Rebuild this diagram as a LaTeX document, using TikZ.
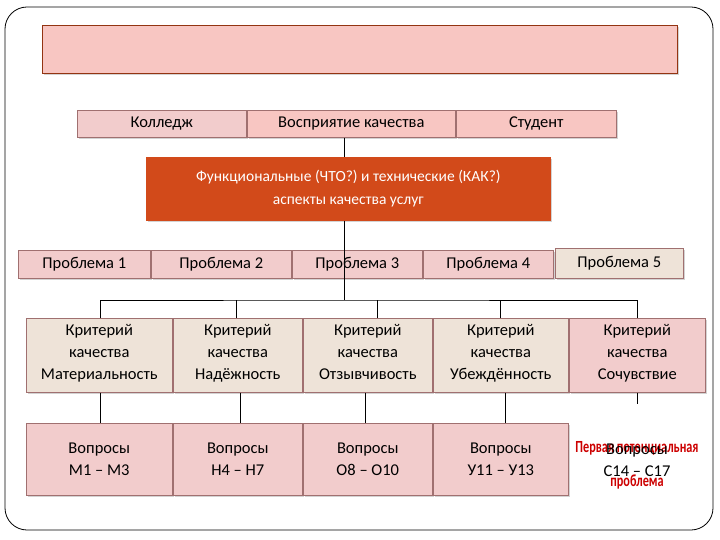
\documentclass[tikz,border=0pt]{standalone}
\usepackage{fontspec}
\setmainfont{Carlito}
\usetikzlibrary{shadows}
\definecolor{pinkA}{HTML}{F2CCCC}
\definecolor{pinkB}{HTML}{F8C6C2}
\definecolor{beige}{HTML}{EEE3D8}
\definecolor{orng}{HTML}{D24A1A}
\definecolor{bord}{HTML}{A07070}
\begin{document}
\begin{tikzpicture}[x=1pt,y=-1pt,
  bx/.style={draw=bord,line width=0.6pt,minimum height=#1,inner sep=1pt,align=center,font=\fontsize{16.5}{22}\selectfont,anchor=north west,drop shadow={shadow xshift=1.5pt,shadow yshift=-1.5pt,opacity=0.35}},
  bx/.default=28pt,
  ln/.style={draw=black,line width=0.7pt}]
\useasboundingbox (0,0) rectangle (720,540);
\draw[line width=0.8pt,rounded corners=22pt] (5,7) rectangle (713,530);
\node[bx=48pt,fill=pinkB,draw=orng!70!black,line width=1.2pt,minimum width=635pt] (title) at (42,25) {};
% row 1
\node[bx=27pt,fill=pinkA,minimum width=169pt] (kol) at (77,110) {Колледж};
\node[bx=27pt,fill=pinkB,minimum width=208pt] (vos) at (247,110) {Восприятие качества};
\node[bx=27pt,fill=pinkB,minimum width=160pt] (stu) at (456,110) {Студент};
\node[bx=63pt,fill=orng,draw=orng,text=white,minimum width=404pt,font=\fontsize{15.5}{23}\selectfont] (fun) at (146,157) {Функциональные (ЧТО?) и технические (КАК?)\\аспекты качества услуг};
% problems
\node[bx=28pt,fill=pinkA,minimum width=132pt] (p1) at (18,250) {Проблема 1};
\node[bx=28pt,fill=pinkA,minimum width=140pt] (p2) at (151,250) {Проблема 2};
\node[bx=28pt,fill=pinkA,minimum width=130pt] (p3) at (292,250) {Проблема 3};
\node[bx=28pt,fill=pinkA,minimum width=130pt] (p4) at (423,250) {Проблема 4};
\node[bx=30pt,fill=beige,minimum width=128pt] (p5) at (555,248) {Проблема 5};
% criteria
\node[bx=74pt,fill=beige,minimum width=146pt] (c1) at (26,318) {Критерий\\качества\\Материальность\strut};
\node[bx=74pt,fill=beige,minimum width=129pt] (c2) at (173,318) {Критерий\\качества\\Надёжность\strut};
\node[bx=74pt,fill=beige,minimum width=129pt] (c3) at (303,318) {Критерий\\качества\\Отзывчивость\strut};
\node[bx=74pt,fill=beige,minimum width=135pt] (c4) at (433,318) {Критерий\\качества\\Убеждённость\strut};
\node[bx=74pt,fill=pinkA,minimum width=136pt] (c5) at (569,318) {Критерий\\качества\\Сочувствие\strut};
% questions
\node[bx=72pt,fill=pinkA,minimum width=146pt] (q1) at (26,423) {Вопросы\\М1 – М3};
\node[bx=72pt,fill=pinkA,minimum width=129pt] (q2) at (173,423) {Вопросы\\Н4 – Н7};
\node[bx=72pt,fill=pinkA,minimum width=129pt] (q3) at (303,423) {Вопросы\\О8 – О10};
\node[bx=72pt,fill=pinkA,minimum width=135pt] (q4) at (433,423) {Вопросы\\У11 – У13};
\node[text=red!80!black,font=\fontsize{17}{34}\selectfont\bfseries,align=center,xscale=0.72] (q5r) at (637,465) {Первая потенциальная\\проблема};
\node[font=\fontsize{16.5}{22}\selectfont,align=center] (q5) at (637,460) {Вопросы\\С14 – С17};
\coordinate (q5t) at (637,404);
% connectors
\draw[ln] (vos.south) ++(-7,0) coordinate (va) -- (va |- fun.north);
\coordinate (hub) at (344,300);
\draw[ln] (fun.south -| hub) -- (hub);
\draw[ln] (c1.north -| 100,0) |- (hub) -| (c5.north -| 637,0);
\draw[ln] (c2.north -| 236,0) -- (236,300);
\draw[ln] (c3.north -| 377,0) -- (377,300);
\draw[ln] (c4.north -| 500,0) -- (500,300);
\draw[ln] (c1.south -| 100,0) -- (q1.north -| 100,0);
\draw[ln] (c2.south -| 240,0) -- (q2.north -| 240,0);
\draw[ln] (c3.south -| 365,0) -- (q3.north -| 365,0);
\draw[ln] (c4.south -| 505,0) -- (q4.north -| 505,0);
\draw[ln] (c5.south -| q5t) -- (q5t);
\end{tikzpicture}
\end{document}
